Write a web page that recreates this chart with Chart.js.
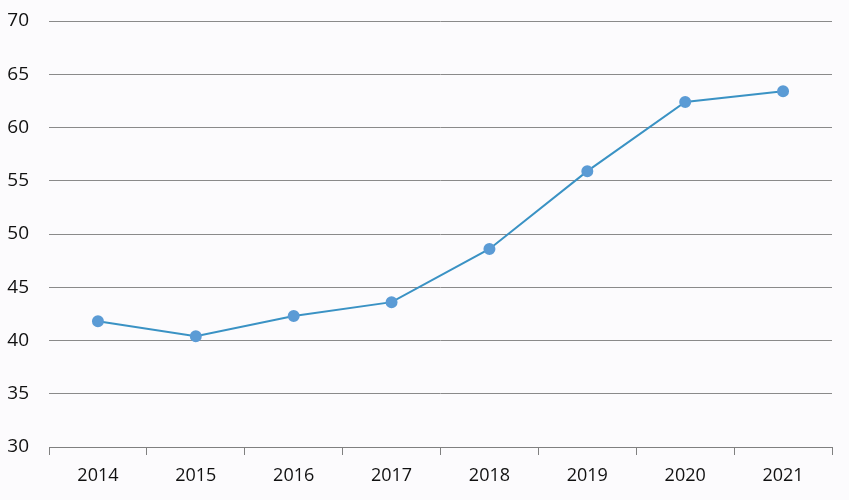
<!DOCTYPE html>
<html>
<head>
<meta charset="utf-8">
<script src="https://cdn.jsdelivr.net/npm/chart.js@4"></script>
<style>
  html, body { margin: 0; padding: 0; background: #fcfbfd; }
  #wrap { width: 849px; height: 500px; }
</style>
</head>
<body>
<div id="wrap"><canvas id="lineChart"></canvas></div>
<script>
var years = ["2014", "2015", "2016", "2017", "2018", "2019", "2020", "2021"];
var values = [41.8, 40.4, 42.3, 43.6, 48.6, 55.9, 62.4, 63.4];
var yTicks = [30, 35, 40, 45, 50, 55, 60, 65, 70];

document.addEventListener("DOMContentLoaded", function () {
  var ctx = document.getElementById("lineChart").getContext("2d");
  new Chart(ctx, {
    type: "line",
    data: {
      labels: years,
      datasets: [
        {
          data: values,
          borderColor: "#3a92c4",
          borderWidth: 2,
          backgroundColor: "#5b9bd5",
          pointBackgroundColor: "#5b9bd5",
          pointBorderColor: "#5b9bd5",
          pointRadius: 5,
          tension: 0,
        },
      ],
    },
    options: {
      responsive: true,
      maintainAspectRatio: false,
      animation: false,
      layout: { padding: { top: 21, right: 17, left: 0, bottom: 0 } },
      plugins: { legend: { display: false }, tooltip: { enabled: false } },
      scales: {
        x: {
          offset: true,
          grid: {
            offset: true,
            drawOnChartArea: false,
            drawTicks: true,
            tickLength: 8,
            color: "#808080",
          },
          border: { color: "#808080", width: 1 },
          ticks: { color: "#111", font: { family: "Open Sans", size: 18 }, padding: 10 },
          afterFit: function (scale) { scale.height = 53; },
        },
        y: {
          min: 30,
          max: 70,
          afterBuildTicks: function (scale) {
            scale.ticks = yTicks.map(function (v) { return { value: v }; });
          },
          grid: { color: "#8a8a8a", drawTicks: false, lineWidth: 1 },
          border: { display: false },
          ticks: { color: "#111", font: { family: "Open Sans", size: 19 }, padding: 20 },
          afterFit: function (scale) {
            scale.width = 49;
            scale.paddingTop = 0;
            scale.paddingBottom = 0;
          },
        },
      },
    },
  });
});
</script>
</body>
</html>
